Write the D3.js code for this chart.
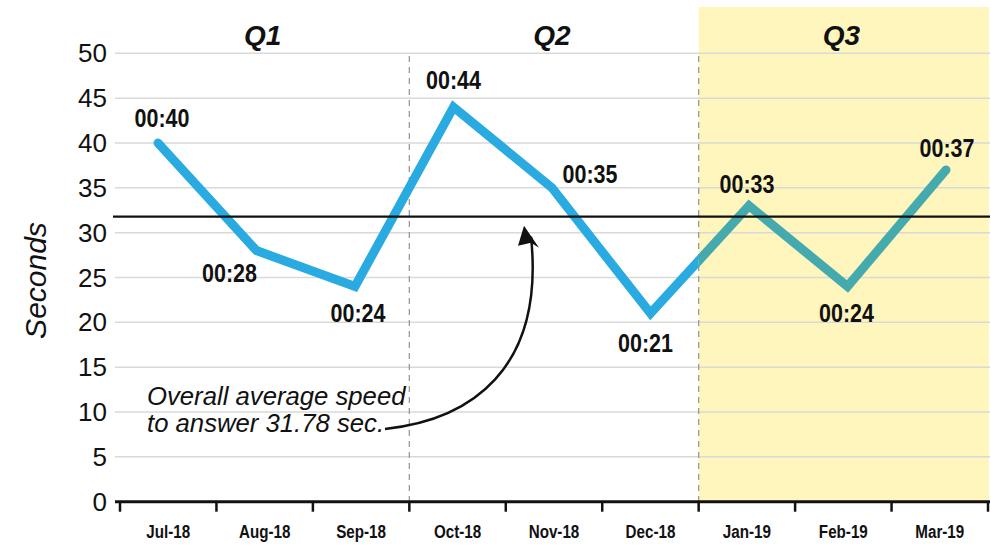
<!DOCTYPE html>
<html>
<head>
<meta charset="utf-8">
<script src="https://cdn.jsdelivr.net/npm/d3@7"></script>
<style>
  html, body { margin: 0; padding: 0; background: #fff; }
  svg { display: block; }
  .sans { font-family: "Liberation Sans", Arial, sans-serif; }
</style>
</head>
<body>
<svg id="chart" width="991" height="545"></svg>
<script>
// Average speed to answer, in seconds, per month
const months = ["Jul-18", "Aug-18", "Sep-18", "Oct-18", "Nov-18", "Dec-18", "Jan-19", "Feb-19", "Mar-19"];
const seconds = [40, 28, 24, 44, 35, 21, 33, 24, 37];
const valueLabels = ["00:40", "00:28", "00:24", "00:44", "00:35", "00:21", "00:33", "00:24", "00:37"];
const quarters = ["Q1", "Q2", "Q3"];
const yTicks = [0, 5, 10, 15, 20, 25, 30, 35, 40, 45, 50];
const overallAverage = 31.78;
const annotationLines = ["Overall average speed", "to answer 31.78 sec."];

// Label placement relative to each point [dx, dy]
const labelOffsets = [[4, -16], [-27, 31], [3, 36], [0, -18], [38, -5], [-5, 39], [-2, -13], [-1, 36], [1, -13]];

const svg = d3.select("#chart");
const W = 991, H = 545;
const plotLeft = 120, plotRight = 988, plotTop = 53.3, plotBottom = 501.7;

const x = d3.scaleBand().domain(months).range([plotLeft, plotRight]).padding(0);
const xLine = d3.scalePoint().domain(months).range([158, 946]);
const y = d3.scaleLinear().domain([0, 50]).range([plotBottom, plotTop]);

const blue = "#29abe2", teal = "#45aaad";
const q3Start = x("Jan-19");

// Highlighted third quarter
svg.append("rect")
  .attr("x", q3Start).attr("y", 7)
  .attr("width", 989 - q3Start).attr("height", plotBottom - 7)
  .attr("fill", "#fff6bd");

// Gridlines
svg.append("g").selectAll("line").data(yTicks.filter(d => d > 0)).join("line")
  .attr("x1", 115).attr("x2", 990)
  .attr("y1", d => y(d)).attr("y2", d => y(d))
  .attr("stroke", "#d9d9d9").attr("stroke-width", 1.5);

// Y tick labels
svg.append("g").selectAll("text").data(yTicks).join("text")
  .attr("class", "sans")
  .attr("x", 107).attr("y", d => y(d) + 9)
  .attr("text-anchor", "end")
  .attr("font-size", 26).attr("fill", "#111")
  .text(d => d);

// Y axis title
svg.append("text")
  .attr("class", "sans")
  .attr("transform", `translate(46,${(plotTop + plotBottom) / 2 + 3}) rotate(-90)`)
  .attr("text-anchor", "middle")
  .attr("font-size", 30).attr("font-style", "italic").attr("fill", "#111")
  .text("Seconds");

// Quarter dividers
const dividers = [x("Oct-18"), q3Start];
svg.append("g").selectAll("line").data(dividers).join("line")
  .attr("x1", d => d).attr("x2", d => d)
  .attr("y1", 56).attr("y2", plotBottom)
  .attr("stroke", "#9a9a9a").attr("stroke-width", 1.3)
  .attr("stroke-dasharray", "6,5");

// Quarter titles
svg.append("g").selectAll("text").data(quarters).join("text")
  .attr("class", "sans")
  .attr("x", (d, i) => (x(months[i * 3]) + x(months[i * 3 + 2]) + x.bandwidth()) / 2 - 2)
  .attr("y", 45)
  .attr("text-anchor", "middle")
  .attr("font-size", 28).attr("font-weight", "bold").attr("font-style", "italic").attr("fill", "#111")
  .text(d => d);

// X axis: labels condensed horizontally
const xAxis = d3.axisBottom(x).tickSize(0).tickPadding(0);
const gx = svg.append("g").attr("transform", `translate(0,${plotBottom})`).call(xAxis);
gx.select(".domain").remove();
gx.selectAll("text")
  .attr("class", "sans")
  .attr("y", 0).attr("dy", 0)
  .attr("transform", "translate(0,36) scale(0.8,1)")
  .attr("font-size", 19).attr("font-weight", "bold").attr("fill", "#111");
svg.append("line")
  .attr("x1", 115).attr("x2", 990).attr("y1", plotBottom).attr("y2", plotBottom)
  .attr("stroke", "#111").attr("stroke-width", 3);
svg.append("g").selectAll("line").data(months.map(m => x(m)).concat([plotRight])).join("line")
  .attr("x1", d => d).attr("x2", d => d)
  .attr("y1", plotBottom).attr("y2", plotBottom + 10)
  .attr("stroke", "#111").attr("stroke-width", 2.5);

// Clip regions for the two line colours
const defs = svg.append("defs");
defs.append("clipPath").attr("id", "clipBefore").append("rect")
  .attr("x", 0).attr("y", 0).attr("width", q3Start).attr("height", H);
defs.append("clipPath").attr("id", "clipAfter").append("rect")
  .attr("x", q3Start).attr("y", 0).attr("width", W - q3Start).attr("height", H);

const lineGen = d3.line().x((d, i) => xLine(months[i])).y(d => y(d));
[["clipBefore", blue], ["clipAfter", teal]].forEach(([clip, color]) => {
  svg.append("path")
    .datum(seconds)
    .attr("clip-path", `url(#${clip})`)
    .attr("d", lineGen)
    .attr("fill", "none")
    .attr("stroke", color).attr("stroke-width", 9)
    .attr("stroke-linecap", "round").attr("stroke-linejoin", "miter");
});

// Overall average line
svg.append("line")
  .attr("x1", 113).attr("x2", 990)
  .attr("y1", y(overallAverage)).attr("y2", y(overallAverage))
  .attr("stroke", "#111").attr("stroke-width", 2.2);

// Value labels (bold, condensed)
svg.append("g").selectAll("text").data(seconds).join("text")
  .attr("class", "sans")
  .attr("transform", (d, i) =>
    `translate(${xLine(months[i]) + labelOffsets[i][0]},${y(d) + labelOffsets[i][1]}) scale(0.86,1)`)
  .attr("text-anchor", "middle")
  .attr("font-size", 25).attr("font-weight", "bold").attr("fill", "#111")
  .text((d, i) => valueLabels[i]);

// Annotation
svg.append("g").selectAll("text").data(annotationLines).join("text")
  .attr("class", "sans")
  .attr("x", 147).attr("y", (d, i) => 405 + i * 27)
  .attr("font-size", 25.7).attr("font-style", "italic").attr("fill", "#111")
  .text(d => d);

// Curved arrow pointing at the average line
const ay = y(overallAverage);
svg.append("path")
  .attr("d", `M385,429 C470,420 545,370 531,${ay + 20}`)
  .attr("fill", "none").attr("stroke", "#111").attr("stroke-width", 2.5);
svg.append("path")
  .attr("d", `M524,${ay + 9} L539,${ay + 31} L531,${ay + 26} L518,${ay + 29} Z`)
  .attr("fill", "#111");
</script>
</body>
</html>
